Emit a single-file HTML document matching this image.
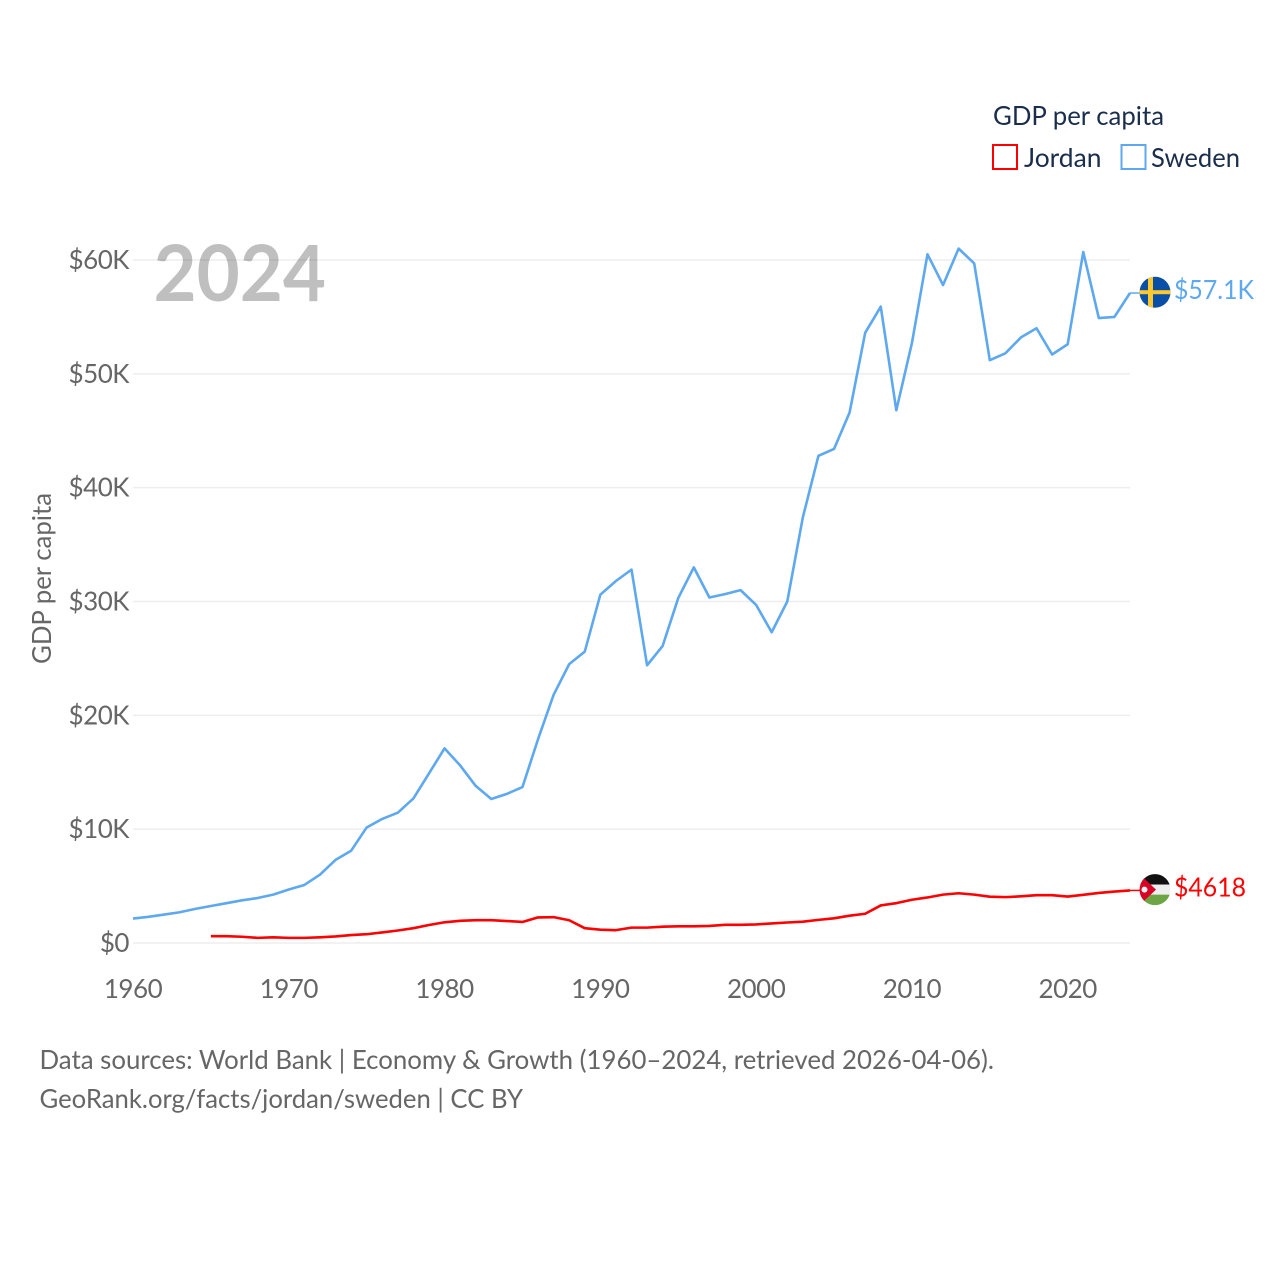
<!DOCTYPE html>
<html>
<head>
<meta charset="utf-8">
<title>GDP per capita: Jordan and Sweden</title>
<style>
html,body{margin:0;padding:0;background:#fff;}
svg{display:block;}
text{font-family:"Lato","Carlito","Liberation Sans",sans-serif;}
</style>
</head>
<body>
<svg id="chart" xmlns="http://www.w3.org/2000/svg" width="1280" height="1280" viewBox="0 0 1280 1280">
  <rect x="0" y="0" width="1280" height="1280" fill="#ffffff"/>
  <g id="grid"></g>
  <g id="yticks"></g>
  <g id="xticks"></g>
  <text x="153.5" y="301" font-size="78" font-weight="700" fill="#000000" fill-opacity="0.25" textLength="172.5" lengthAdjust="spacingAndGlyphs">2024</text>
  <text transform="translate(51,664) rotate(-90)" font-size="26" fill="#666666" textLength="171" lengthAdjust="spacingAndGlyphs">GDP per capita</text>
  <g id="series"></g>
  <defs>
    <clipPath id="flag-clip"><circle cx="0" cy="0" r="15.5"/></clipPath>
  </defs>
  <g id="flag-sweden" clip-path="url(#flag-clip)">
    <rect x="-16" y="-16" width="32" height="32" fill="#0a4fa6"/>
    <rect x="-16" y="-2" width="32" height="4" fill="#fdc82f"/>
    <rect x="-7" y="-16" width="5" height="32" fill="#fdc82f"/>
  </g>
  <g id="flag-jordan" clip-path="url(#flag-clip)">
    <rect x="-16" y="-16" width="32" height="11" fill="#111111"/>
    <rect x="-16" y="-5" width="32" height="10" fill="#eeeeee"/>
    <rect x="-16" y="5" width="32" height="11" fill="#6da544"/>
    <polygon points="-16,-16 1,0 -16,16" fill="#d80027"/>
    <circle cx="-10.5" cy="0" r="3" fill="#eeeeee"/>
  </g>
  <g id="end-labels"></g>
  <g>
    <text x="993" y="125" font-size="26" fill="#1a2e4c" textLength="171" lengthAdjust="spacingAndGlyphs">GDP per capita</text>
    <g>
      <rect x="993" y="145" width="24" height="24" fill="none" stroke="#ff0000" stroke-width="2"/>
      <text x="1024" y="167" font-size="26" fill="#1a2e4c" textLength="77.5" lengthAdjust="spacingAndGlyphs">Jordan</text>
    </g>
    <g>
      <rect x="1121.5" y="145" width="24" height="24" fill="none" stroke="#5ea8f0" stroke-width="2"/>
      <text x="1151" y="167" font-size="26" fill="#1a2e4c" textLength="89" lengthAdjust="spacingAndGlyphs">Sweden</text>
    </g>
  </g>
  <text x="39.5" y="1069" font-size="26" fill="#666666" textLength="954.5" lengthAdjust="spacingAndGlyphs">Data sources: World Bank | Economy &amp; Growth (1960–2024, retrieved 2026-04-06).</text>
  <text x="39.5" y="1108" font-size="26" fill="#666666" textLength="483.5" lengthAdjust="spacingAndGlyphs">GeoRank.org/facts/jordan/sweden | CC BY</text>
</svg>
<script>
var years = [1960,1961,1962,1963,1964,1965,1966,1967,1968,1969,1970,1971,1972,1973,1974,1975,1976,1977,1978,1979,1980,1981,1982,1983,1984,1985,1986,1987,1988,1989,1990,1991,1992,1993,1994,1995,1996,1997,1998,1999,2000,2001,2002,2003,2004,2005,2006,2007,2008,2009,2010,2011,2012,2013,2014,2015,2016,2017,2018,2019,2020,2021,2022,2023,2024];
var swedenValues = [2.15,2.3,2.5,2.7,3.0,3.25,3.5,3.75,3.95,4.25,4.7,5.1,6.0,7.3,8.1,10.15,10.9,11.45,12.7,14.9,17.1,15.6,13.8,12.65,13.1,13.7,17.9,21.8,24.5,25.6,30.6,31.8,32.8,24.4,26.1,30.3,33.0,30.35,30.65,31.0,29.7,27.3,30.0,37.4,42.8,43.4,46.6,53.6,55.9,46.8,52.7,60.5,57.8,61.0,59.7,51.2,51.8,53.2,54.0,51.7,52.6,60.7,54.9,55.0,57.1];
var jordanValues = [null,null,null,null,null,0.6,0.6,0.55,0.45,0.5,0.45,0.45,0.5,0.58,0.7,0.77,0.93,1.1,1.3,1.58,1.82,1.95,2.0,2.0,1.93,1.85,2.25,2.27,2.0,1.3,1.17,1.13,1.35,1.35,1.43,1.47,1.47,1.5,1.6,1.6,1.63,1.72,1.8,1.87,2.03,2.17,2.4,2.57,3.3,3.5,3.8,4.0,4.25,4.37,4.25,4.07,4.03,4.1,4.2,4.2,4.08,4.23,4.4,4.52,4.618];
var yTickValues = [0,10,20,30,40,50,60];
var yTickLabels = ["$0","$10K","$20K","$30K","$40K","$50K","$60K"];
var xTickValues = [1960,1970,1980,1990,2000,2010,2020];
var endLabels = ["$57.1K","$4618"];

var NS = "http://www.w3.org/2000/svg";
function xScale(year){ return 133 + (year - 1960) * (1130 - 133) / 64; }
function yScale(value){ return 943 - value * (943 - 260) / 60; }
function make(tag, parent, attrs, content){
  var el = document.createElementNS(NS, tag);
  for (var k in attrs) el.setAttribute(k, attrs[k]);
  if (content !== undefined) el.textContent = content;
  parent.appendChild(el);
  return el;
}
var gridG = document.getElementById("grid");
var yG = document.getElementById("yticks");
yTickValues.forEach(function(v, i){
  var line = make("line", gridG, {x1:133, x2:1130, y1:yScale(v), y2:yScale(v), stroke:"#eeeeee", "stroke-width":1.5});
  
  
  var t = make("text", yG, {x:129, y:yScale(v)+9, "text-anchor":"end", "font-size":26, "letter-spacing":"-0.5", fill:"#666666"}, yTickLabels[i]);
  
  
});
var xG = document.getElementById("xticks");
xTickValues.forEach(function(v){
  var t = make("text", xG, {x:xScale(v), y:998, "text-anchor":"middle", "font-size":26, "letter-spacing":"-0.5", fill:"#666666"}, String(v));
  
  
});
function seriesPoints(values){
  var pts = [];
  values.forEach(function(v, i){
    if (v === null) return;
    pts.push(xScale(years[i]).toFixed(2) + "," + yScale(v).toFixed(2));
  });
  return pts.join(" ");
}
var seriesG = document.getElementById("series");
var swedenEnd = swedenValues[swedenValues.length - 1];
var jordanEnd = jordanValues[jordanValues.length - 1];
var swedenLine = make("polyline", seriesG, {points:seriesPoints(swedenValues), fill:"none", stroke:"#5ea8f0", "stroke-width":2.6, "stroke-linejoin":"round"});


var jordanLine = make("polyline", seriesG, {points:seriesPoints(jordanValues), fill:"none", stroke:"#ff0000", "stroke-width":2.6, "stroke-linejoin":"round"});


var swedenConnector = make("line", seriesG, {x1:xScale(2024), x2:1141, y1:yScale(swedenEnd), y2:yScale(swedenEnd), stroke:"#5ea8f0", "stroke-width":1.5});


var jordanConnector = make("line", seriesG, {x1:xScale(2024), x2:1141, y1:yScale(jordanEnd), y2:yScale(jordanEnd), stroke:"#ff0000", "stroke-width":1.5});



document.getElementById("flag-sweden").setAttribute("transform", "translate(1155," + (yScale(swedenEnd) - 0.8) + ")");
document.getElementById("flag-jordan").setAttribute("transform", "translate(1155," + (yScale(jordanEnd) - 0.8) + ")");
var endG = document.getElementById("end-labels");
var swedenLabel = make("text", endG, {x:1174, y:yScale(swedenEnd)+6, "font-size":26, fill:"#5ea8f0", textLength:80, lengthAdjust:"spacingAndGlyphs"}, endLabels[0]);


var jordanLabel = make("text", endG, {x:1174, y:yScale(jordanEnd)+6, "font-size":26, fill:"#ff0000", textLength:72, lengthAdjust:"spacingAndGlyphs"}, endLabels[1]);


</script>
</body>
</html>
